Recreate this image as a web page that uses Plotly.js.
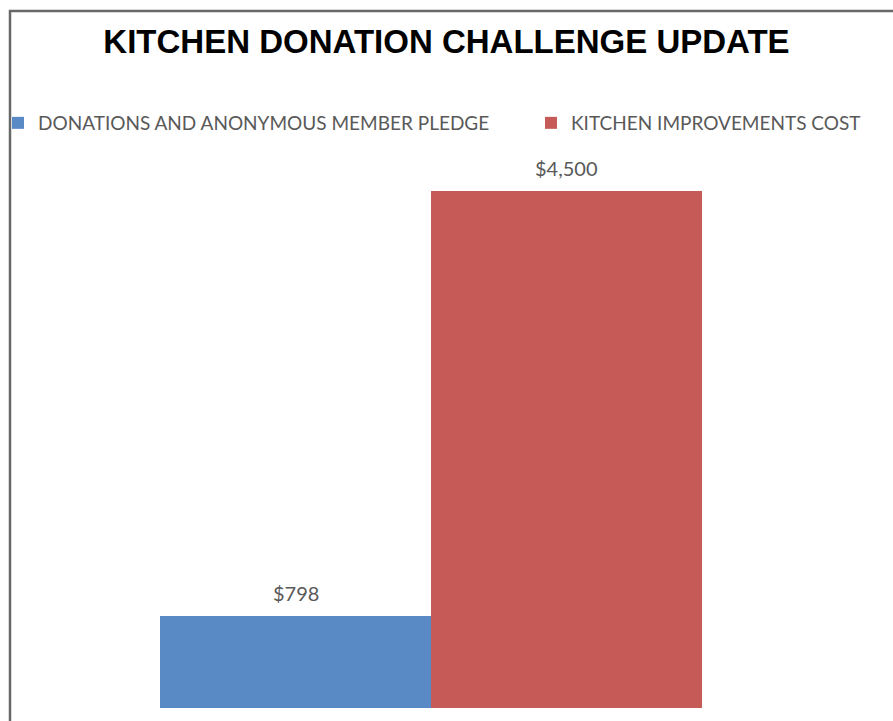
<!DOCTYPE html>
<html>
<head>
<meta charset="utf-8">
<script src="https://cdn.plot.ly/plotly-3.0.1.min.js"></script>
<style>
html,body{margin:0;padding:0;background:#fff;}
#chart{width:893px;height:721px;}
</style>
</head>
<body>
<div id="chart"></div>
<script>
// ---- data ----
var categories = ["DONATIONS AND ANONYMOUS MEMBER PLEDGE", "KITCHEN IMPROVEMENTS COST"];
var values = [798, 4500];
var labels = ["$798", "$4,500"];
var colors = ["#5A8AC6", "#C55A57"];
var chartTitle = "KITCHEN DONATION CHALLENGE UPDATE";

var legendIds = ["legend", "legend2"];
var traces = categories.map(function(c, i){
  return {
    type: "bar",
    name: c,
    x: [c],
    y: [values[i]],
    marker: {color: colors[i]},
    legend: legendIds[i],
    hoverinfo: "skip"
  };
});

var annotations = categories.map(function(c, i){
  return {
    x: c, y: values[i], xref: "x", yref: "y",
    text: labels[i], showarrow: false,
    yanchor: "bottom", yshift: 9,
    font: {family: "Lato, 'Open Sans', sans-serif", size: 20, color: "#595959"}
  };
});

var W = 893, H = 721;
var mt = 179, mb = 13;
var ph = H - mt - mb;
// bars span 160..702 px, one category unit = 271 px
var unit = 271, barLeft = 160;
var xr0 = -0.5 - barLeft / unit;
var xr1 = xr0 + W / unit;
function px(x){ return x / W; }
function py(y){ return (H - mb - y) / ph; }

function legendAt(left){
  return {
    orientation: "h",
    x: px(left), xanchor: "left",
    y: py(123), yanchor: "middle",
    font: {family: "Lato, 'Open Sans', sans-serif", size: 19, color: "#595959"},
    bgcolor: "rgba(0,0,0,0)", borderwidth: 0,
    itemclick: false, itemdoubleclick: false
  };
}

var layout = {
  width: W, height: H,
  margin: {l: 0, r: 0, t: mt, b: mb, pad: 0, autoexpand: false},
  paper_bgcolor: "#fff", plot_bgcolor: "#fff",
  barmode: "overlay",
  bargap: 0,
  title: {
    text: chartTitle,
    x: 0.5, xref: "container", xanchor: "center",
    y: 1 - 41/H, yref: "container", yanchor: "middle",
    font: {family: "'Liberation Sans', Arial, sans-serif", size: 33, color: "#000", weight: "bold"}
  },
  xaxis: {visible: false, range: [xr0, xr1], fixedrange: true},
  yaxis: {visible: false, range: [0, 4600], fixedrange: true},
  showlegend: true,
  legend: legendAt(-2),
  legend2: legendAt(531),
  annotations: annotations,
  shapes: [{
    type: "path", xref: "paper", yref: "paper",
    path: "M " + px(10) + " " + py(740) + " L " + px(10) + " " + py(11) + " L " + px(910) + " " + py(11),
    line: {color: "#686868", width: 2.5},
    layer: "above"
  }]
};

Plotly.newPlot("chart", traces, layout, {displayModeBar: false, staticPlot: true});
</script>
</body>
</html>
